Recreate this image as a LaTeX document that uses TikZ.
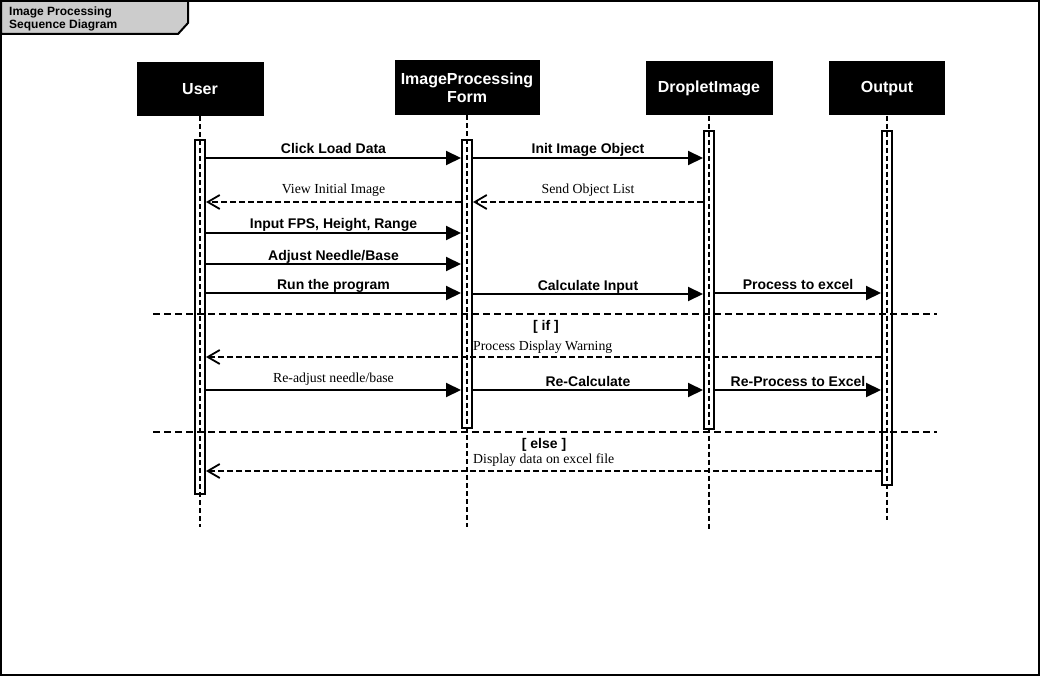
\documentclass[tikz,border=0pt]{standalone}
\usepackage{fontspec}
\setmainfont{Liberation Serif}
\setsansfont{Liberation Sans}
\usetikzlibrary{arrows.meta, positioning}

\begin{document}
\begin{tikzpicture}[x=1pt, y=-1pt]

    % Define styles
    \tikzset{
        head/.style = {rectangle, minimum width=#1, minimum height=54pt, text centered, align=center, fill=black, text=white, font=\sffamily\bfseries\fontsize{16}{18}\selectfont},
        activation/.style = {rectangle, draw=black, line width=2pt, minimum width=10pt, inner sep=0pt},
        lifeline/.style = {line width=1.8pt, dash pattern=on 5pt off 3pt},
        guard/.style = {line width=2pt, dash pattern=on 7pt off 4pt},
        call/.style = {line width=2pt, -{Triangle[length=15pt,width=14pt]}},
        reply/.style = {line width=1.8pt, dash pattern=on 6pt off 3pt, -{Straight Barb[length=12pt,width=14pt,line width=1.8pt]}},
        sanslabel/.style = {font=\sffamily\bfseries\fontsize{14}{16}\selectfont, inner sep=0pt, text depth=0pt},
        seriflabel/.style = {font=\fontsize{13.8}{16}\selectfont, inner sep=0pt, text depth=0pt}
    }

    \useasboundingbox (0,0) rectangle (1040,676);
    \draw [line width=2.4pt] (1,1) rectangle (1039,675);

    % Title tab
    \draw [line width=2pt, fill=gray!40] (1,1) -- (188,1) -- (188,23) -- (178,34) -- (1,34) -- cycle;
    \node (title) [anchor=north west, align=left, inner sep=0pt, font=\sffamily\bfseries\fontsize{12}{13}\selectfont] at (9,7) {Image Processing\\Sequence Diagram};

    % Nodes
    \node (user) [head=127pt] at (200,89) {User};
    \node (form) [head=145pt, minimum height=55pt] at (467,87.5) {ImageProcessing\\Form};
    \node (droplet) [head=127pt] at (709,88.5) {DropletImage};
    \node (output) [head=116pt] at (887,88.5) {Output};

    \coordinate (uend) at (200,527);
    \coordinate (fend) at (467,527);
    \coordinate (dend) at (709,530);
    \coordinate (oend) at (887,520);

    \draw [lifeline] (user.south) -- (uend);
    \draw [lifeline] (form.south) -- (fend);
    \draw [lifeline] (droplet.south) -- (dend);
    \draw [lifeline] (output.south) -- (oend);

    \node (uact) [activation, minimum height=354pt, below=23pt of user] {};
    \node (fact) [activation, minimum height=288pt, below=24pt of form] {};
    \node (dact) [activation, minimum height=298pt, below=14pt of droplet] {};
    \node (oact) [activation, minimum height=354pt, below=14pt of output] {};

    % Message rows
    \coordinate (r1) at (0,158);
    \coordinate (r2) at (0,202);
    \coordinate (r3) at (0,233);
    \coordinate (r4) at (0,264);
    \coordinate (r5) at (0,293);
    \coordinate (r6) at (0,357);
    \coordinate (r7) at (0,390);
    \coordinate (r8) at (0,471);

    % Arrows
    \draw [call] (uact.east |- r1) -- node [sanslabel, above=3pt] (load) {Click Load Data} (fact.west |- r1);
    \draw [call] (fact.east |- r1) -- node [sanslabel, above=3pt] (init) {Init Image Object} (dact.west |- r1);
    \draw [reply] (fact.west |- r2) -- node [seriflabel, above=8pt] (view) {View Initial Image} (uact.east |- r2);
    \draw [reply] (dact.west |- r2) -- node [seriflabel, above=8pt] (send) {Send Object List} (fact.east |- r2);
    \draw [call] (uact.east |- r3) -- node [sanslabel, above=3pt] (input) {Input FPS, Height, Range} (fact.west |- r3);
    \draw [call] (uact.east |- r4) -- node [sanslabel, above=3pt] (adjust) {Adjust Needle/Base} (fact.west |- r4);
    \draw [call] (uact.east |- r5) -- node [sanslabel, above=3pt] (run) {Run the program} (fact.west |- r5);
    \draw [call] ([yshift=-1pt]fact.east |- r5) -- node [sanslabel, above=3pt] (calc) {Calculate Input} ([yshift=-1pt]dact.west |- r5);
    \draw [call] (dact.east |- r5) -- node [sanslabel, above=3pt] (proc) {Process to excel} (oact.west |- r5);

    % if / else fragments
    \coordinate (ifL) at (153,314);
    \coordinate (ifR) at (937,314);
    \coordinate (elseL) at (153,432);
    \coordinate (elseR) at (937,432);
    \draw [guard] (ifL) -- (ifR);
    \draw [guard] (elseL) -- (elseR);
    \node (ifguard) [sanslabel] at (546,325) {[ if ]};
    \node (elseguard) [sanslabel] at (544,443) {[ else ]};

    \node (warn) [seriflabel, anchor=base west] at (473,350) {Process Display Warning};
    \draw [reply] (oact.west |- r6) -- (uact.east |- r6);
    \draw [call] (uact.east |- r7) -- node [seriflabel, above=7pt] (readjust) {Re-adjust needle/base} (fact.west |- r7);
    \draw [call] (fact.east |- r7) -- node [sanslabel, above=3pt] (recalc) {Re-Calculate} (dact.west |- r7);
    \draw [call] (dact.east |- r7) -- node [sanslabel, above=3pt] (reproc) {Re-Process to Excel} (oact.west |- r7);

    \node (display) [seriflabel, anchor=base west] at (473,463) {Display data on excel file};
    \draw [reply] (oact.west |- r8) -- (uact.east |- r8);
\end{tikzpicture}
\end{document}
